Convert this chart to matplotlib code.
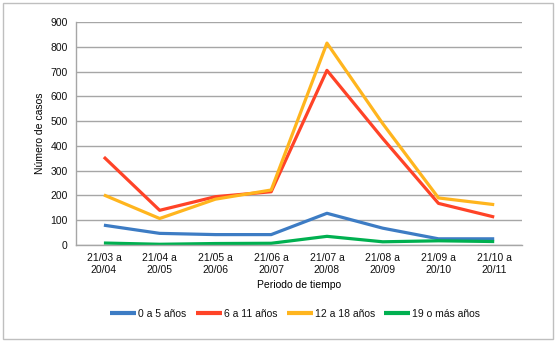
import matplotlib.pyplot as plt
from matplotlib.patches import Rectangle

plt.rcParams['font.family'] = ['Liberation Sans', 'DejaVu Sans']
plt.rcParams['text.color'] = '#111111'
plt.rcParams['xtick.color'] = '#111111'
plt.rcParams['ytick.color'] = '#111111'

periodos = ["21/03 a\n20/04", "21/04 a\n20/05", "21/05 a\n20/06", "21/06 a\n20/07",
            "21/07 a\n20/08", "21/08 a\n20/09", "21/09 a\n20/10", "21/10 a\n20/11"]
edad_0_5 = [80, 47, 42, 42, 128, 68, 25, 25]
edad_6_11 = [355, 140, 195, 215, 705, 430, 168, 113]
edad_12_18 = [202, 107, 185, 222, 815, 490, 190, 163]
edad_19 = [8, 3, 6, 7, 35, 13, 17, 14]

fig = plt.figure(figsize=(5.59, 3.42), dpi=100)
ax = fig.add_axes([0.136, 0.2836, 0.798, 0.652])

x = range(len(periodos))
series = [
    (edad_0_5, "0 a 5 años", "#3D7CC4"),
    (edad_6_11, "6 a 11 años", "#FF4327"),
    (edad_12_18, "12 a 18 años", "#FFB51E"),
    (edad_19, "19 o más años", "#00B050"),
]
for vals, lab, col in series:
    ax.plot(x, vals, color=col, lw=2.3, label=lab, solid_capstyle='butt')

ax.set_xlim(-0.5, len(periodos) - 0.5)
ax.set_ylim(0, 900)
ax.set_yticks(range(0, 901, 100))
ax.set_xticks(list(x))
ax.set_xticklabels(periodos, fontsize=7.5)
ax.tick_params(axis='y', labelsize=7.5, length=0, pad=6)
ax.tick_params(axis='x', length=0, pad=6)
ax.grid(axis='y', color='#A6A6A6', lw=1)
ax.set_axisbelow(True)
for s in ['top', 'right']:
    ax.spines[s].set_visible(False)
for s in ['left', 'bottom']:
    ax.spines[s].set_color('#A6A6A6')
    ax.spines[s].set_linewidth(1)

ax.set_ylabel("Número de casos", fontsize=7.5, labelpad=4)
ax.set_xlabel("Periodo de tiempo", fontsize=7.5, labelpad=4)

leg = fig.legend(loc='center', bbox_to_anchor=(0.528, 0.082), ncol=4, frameon=False,
                 fontsize=7.5, handlelength=2.5, handletextpad=0.2, columnspacing=0.9)
for h in leg.get_lines():
    h.set_linewidth(3)

fig.patches.append(Rectangle((0.006, 0.009), 0.983, 0.982, transform=fig.transFigure,
                             fill=False, edgecolor='#BFBFBF', lw=1))

fig.savefig("out.png", dpi=100)
